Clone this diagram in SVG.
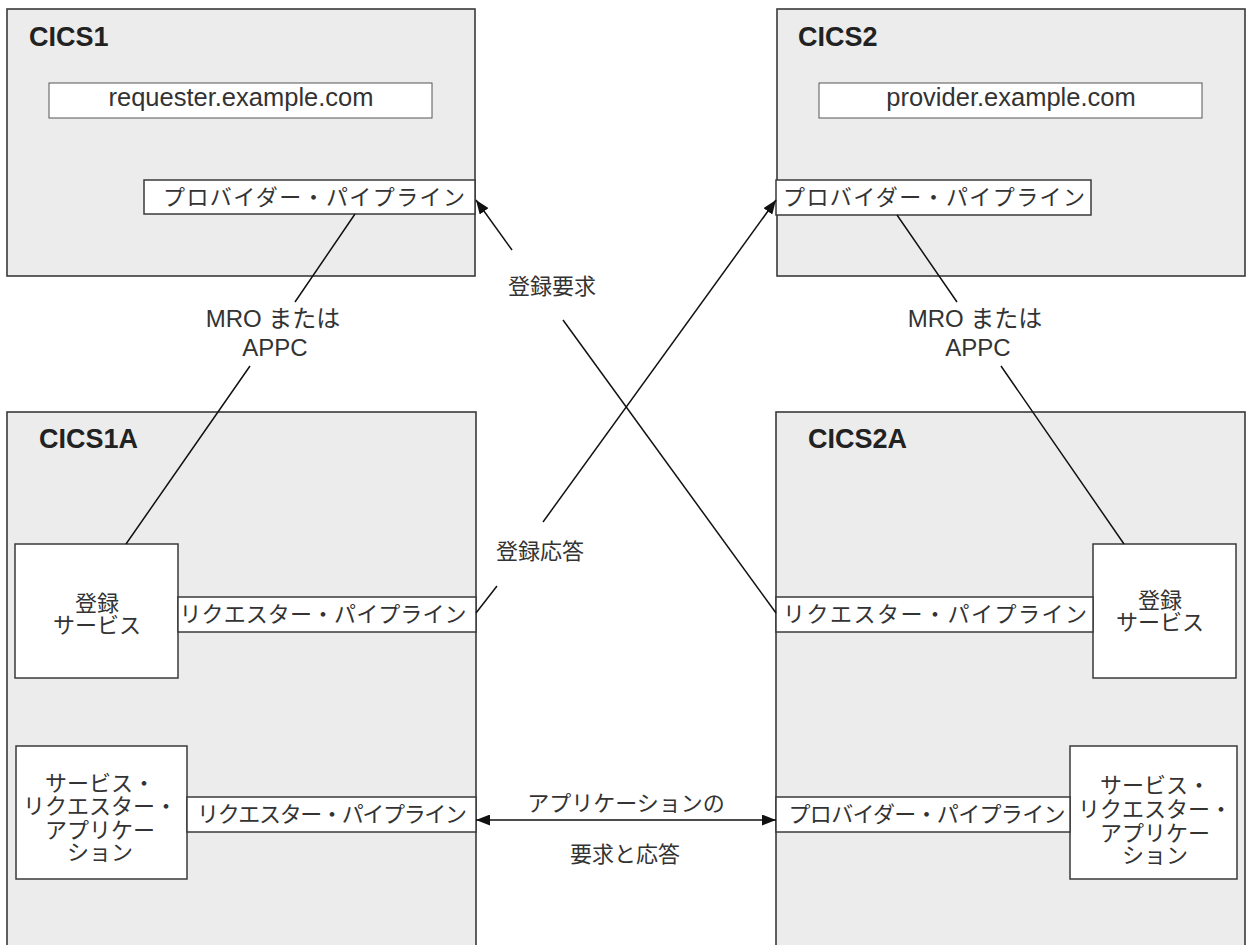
<svg xmlns="http://www.w3.org/2000/svg" width="1247" height="945" viewBox="0 0 1247 945">
<style>
.sys{fill:#ececec;stroke:#3a3a3a;stroke-width:1.6}
.box{fill:#ffffff;stroke:#3a3a3a;stroke-width:1.5}
.host{fill:#ffffff;stroke:#555555;stroke-width:1}
.title{font-family:"Liberation Sans",Arial,sans-serif;font-weight:bold;font-size:27px;fill:#222222}
.hosttxt{font-family:"Liberation Sans",Arial,sans-serif;font-size:25.5px;fill:#333333;text-anchor:middle}
.jp{font-family:"Noto Sans CJK JP","Liberation Sans",sans-serif;font-size:22px;fill:#333333;text-anchor:middle}
.lbl{font-family:"Liberation Sans","Noto Sans CJK JP",sans-serif;font-size:24px;fill:#333333;text-anchor:middle}
.conn{stroke:#111111;stroke-width:1.5;fill:none}
</style>
<defs>
<marker id="arr" viewBox="0 0 14 11" refX="14" refY="5.5" markerWidth="14" markerHeight="11" markerUnits="userSpaceOnUse" orient="auto-start-reverse">
<path d="M0,0 L14,5.5 L0,11 z" fill="#111111"/>
</marker>
</defs>
<rect width="1247" height="945" fill="#ffffff"/>

<g id="cics1">
<rect class="sys" x="7" y="9" width="468" height="267"/>
<text class="title" x="29" y="46">CICS1</text>
<g id="host1">
<rect class="host" x="49" y="83" width="383" height="35"/>
<text class="hosttxt" x="241" y="106">requester.example.com</text>
</g>
<g id="pp1">
<rect class="box" x="144" y="180" width="331" height="34"/>
<text class="jp" x="314" y="205" textLength="302" lengthAdjust="spacing">プロバイダー・パイプライン</text>
</g>
</g>

<g id="cics2">
<rect class="sys" x="777" y="9" width="468" height="267"/>
<text class="title" x="798" y="46">CICS2</text>
<g id="host2">
<rect class="host" x="819" y="83" width="383" height="35"/>
<text class="hosttxt" x="1011" y="106">provider.example.com</text>
</g>
<g id="pp2">
<rect class="box" x="776" y="180" width="315" height="35"/>
<text class="jp" x="934" y="205" textLength="302" lengthAdjust="spacing">プロバイダー・パイプライン</text>
</g>
</g>

<g id="cics1a">
<rect class="sys" x="7" y="412" width="469" height="545"/>
<text class="title" x="39" y="448">CICS1A</text>
<g id="reg1">
<rect class="box" x="15" y="544" width="163" height="134"/>
<text class="jp"><tspan x="97" y="611">登録</tspan><tspan x="97" y="633">サービス</tspan></text>
</g>
<g id="rp1">
<rect class="box" x="178" y="597" width="298" height="35"/>
<text class="jp" x="323" y="622" textLength="287" lengthAdjust="spacing">リクエスター・パイプライン</text>
</g>
<g id="app1">
<rect class="box" x="16" y="746" width="171" height="133"/>
<text class="jp"><tspan x="100" y="791">サービス・</tspan><tspan x="100" y="814">リクエスター・</tspan><tspan x="100" y="838">アプリケー</tspan><tspan x="100" y="860">ション</tspan></text>
</g>
<g id="rp3">
<rect class="box" x="187" y="797" width="289" height="35"/>
<text class="jp" x="332" y="822" textLength="270" lengthAdjust="spacing">リクエスター・パイプライン</text>
</g>
</g>

<g id="cics2a">
<rect class="sys" x="776" y="412" width="469" height="545"/>
<text class="title" x="808" y="448">CICS2A</text>
<g id="reg2">
<rect class="box" x="1093" y="544" width="143" height="134"/>
<text class="jp"><tspan x="1160" y="608">登録</tspan><tspan x="1160" y="630">サービス</tspan></text>
</g>
<g id="rp2">
<rect class="box" x="776" y="597" width="317" height="35"/>
<text class="jp" x="935" y="622" textLength="304" lengthAdjust="spacing">リクエスター・パイプライン</text>
</g>
<g id="app2">
<rect class="box" x="1070" y="746" width="167" height="133"/>
<text class="jp"><tspan x="1155" y="793">サービス・</tspan><tspan x="1155" y="817">リクエスター・</tspan><tspan x="1155" y="841">アプリケー</tspan><tspan x="1155" y="863">ション</tspan></text>
</g>
<g id="pp3">
<rect class="box" x="776" y="797" width="294" height="35"/>
<text class="jp" x="927" y="822" textLength="277" lengthAdjust="spacing">プロバイダー・パイプライン</text>
</g>
</g>

<g id="connectors">
<path class="conn" d="M355,214 L295,302 M250,366 L126,544"/>
<path class="conn" d="M897,215 L957,302 M1001,366 L1124,544"/>
<path class="conn" d="M776,613 L563,320"/>
<path class="conn" d="M512,250 L476,200" marker-end="url(#arr)"/>
<path class="conn" d="M476,613 L497,586"/>
<path class="conn" d="M543,522 L776,200" marker-end="url(#arr)"/>
<path class="conn" d="M476,820 L776,820" marker-start="url(#arr)" marker-end="url(#arr)"/>
<text class="lbl"><tspan x="273" y="327">MRO または</tspan><tspan x="275" y="356">APPC</tspan></text>
<text class="lbl"><tspan x="975" y="327">MRO または</tspan><tspan x="978" y="356">APPC</tspan></text>
<text class="jp" x="552" y="294">登録要求</text>
<text class="jp" x="540" y="559">登録応答</text>
<text class="jp"><tspan x="626" y="811">アプリケーションの</tspan><tspan x="625" y="862">要求と応答</tspan></text>
</g>
</svg>
